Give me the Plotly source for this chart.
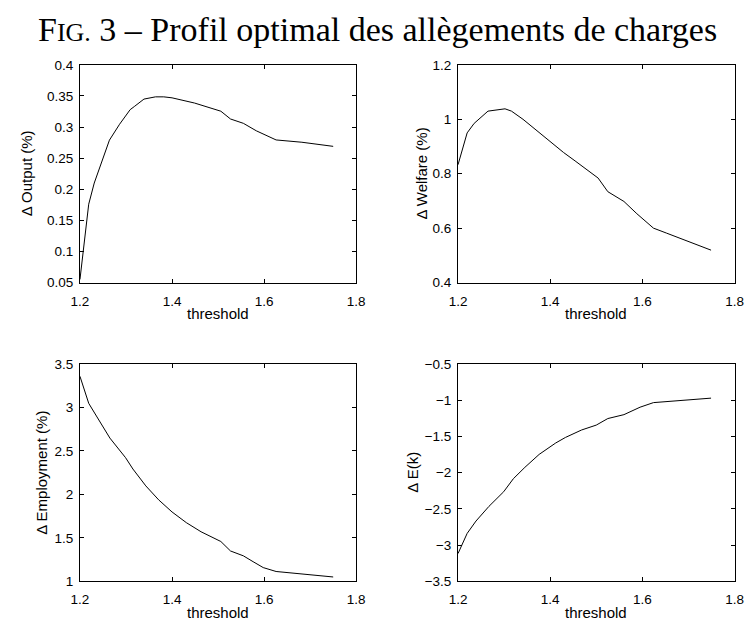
import plotly.graph_objects as go

# ---- data ----
out_x = [1.2, 1.219, 1.231, 1.264, 1.286, 1.309, 1.318, 1.339, 1.364, 1.382, 1.4, 1.449, 1.506, 1.527, 1.555, 1.583, 1.626, 1.682, 1.75]
out_y = [0.055, 0.176, 0.210, 0.279, 0.3045, 0.328, 0.333, 0.345, 0.3486, 0.3486, 0.347, 0.3386, 0.3255, 0.313, 0.306, 0.294, 0.2793, 0.2756, 0.269]

wel_x = [1.2, 1.2198, 1.235, 1.265, 1.302, 1.316, 1.341, 1.369, 1.398, 1.429, 1.454, 1.479, 1.504, 1.525, 1.539, 1.56, 1.588, 1.624, 1.652, 1.749]
wel_y = [0.833, 0.95, 0.985, 1.03, 1.0385, 1.03, 1.0, 0.961, 0.919, 0.878, 0.847, 0.815, 0.784, 0.734, 0.719, 0.698, 0.653, 0.6, 0.582, 0.519]

emp_x = [1.2, 1.219, 1.237, 1.265, 1.299, 1.315, 1.343, 1.371, 1.4, 1.431, 1.463, 1.506, 1.527, 1.555, 1.576, 1.598, 1.626, 1.75]
emp_y = [3.358, 3.047, 2.89, 2.647, 2.422, 2.291, 2.097, 1.936, 1.797, 1.674, 1.569, 1.457, 1.348, 1.292, 1.225, 1.157, 1.112, 1.049]

ek_x = [1.2, 1.2198, 1.239, 1.267, 1.299, 1.32, 1.345, 1.376, 1.412, 1.433, 1.468, 1.5, 1.525, 1.56, 1.595, 1.624, 1.749]
ek_y = [-3.118, -2.84, -2.669, -2.467, -2.265, -2.085, -1.928, -1.749, -1.591, -1.515, -1.412, -1.344, -1.254, -1.2, -1.097, -1.034, -0.972]

x_ticks = [1.2, 1.4, 1.6, 1.8]
y_labels = ["\u0394 Output (%)", "\u0394 Welfare (%)", "\u0394 Employment (%)", "\u0394 E(k)"]
x_label = "threshold"
title_text = 'F<span style="font-size:26px">IG.</span> 3 \u2013 Profil optimal des all\u00e8gements de charges'

W, H = 754, 627
# panel pixel boxes (left, right, top, bottom)
boxes = [(72.7, 355.7, 59.3, 282.3), (460.0, 743.3, 59.3, 282.3),
         (72.7, 355.7, 365.7, 588.3), (460.0, 743.3, 365.7, 588.3)]
yranges = [(0.05, 0.4, 0.05), (0.4, 1.2, 0.2), (1.0, 3.5, 0.5), (-3.5, -0.5, 0.5)]
series = [(out_x, out_y), (wel_x, wel_y), (emp_x, emp_y), (ek_x, ek_y)]
ytitle_cx = [18, 423, 33, 413]

SANS = "Liberation Sans, Arial, sans-serif"
fig = go.Figure()
tickfont = dict(family=SANS, size=13.5, color="black")
labfont = dict(family=SANS, size=15, color="black")
annotations = []
for i, ((l, r, t, b), (y0, y1, dy), (xs, ys)) in enumerate(zip(boxes, yranges, series)):
    n = "" if i == 0 else str(i + 1)
    fig.add_trace(go.Scatter(x=xs, y=ys, mode="lines", line=dict(color="black", width=1),
                             xaxis="x" + n, yaxis="y" + n, showlegend=False))
    common = dict(showline=True, linecolor="black", linewidth=1, mirror="ticks", ticks="inside",
                  ticklen=4, tickcolor="black", tickwidth=1, showgrid=False, zeroline=False,
                  tickfont=tickfont)
    fig.layout["xaxis" + n] = dict(domain=[l / W, r / W], range=[1.2, 1.8], tickvals=x_ticks,
                                   anchor="y" + n, ticklabelstandoff=6, **common)
    fig.layout["yaxis" + n] = dict(domain=[1 - b / H, 1 - t / H], range=[y0, y1], dtick=dy, tick0=y0,
                                   anchor="x" + n, ticklabelstandoff=3, **common)
    annotations.append(dict(x=ytitle_cx[i] / W, y=1 - (t + b) / 2 / H, xref="paper", yref="paper",
                            text=y_labels[i], textangle=-90, showarrow=False,
                            xanchor="center", yanchor="middle", font=labfont))
    annotations.append(dict(x=(l + r) / 2 / W, y=1 - (b + 32) / H, xref="paper", yref="paper",
                            text=x_label, showarrow=False, xanchor="center", yanchor="middle",
                            font=labfont))

annotations.append(dict(x=0.5, y=1 - 23 / H, xref="paper", yref="paper", text=title_text,
                        showarrow=False, xanchor="center", yanchor="middle",
                        font=dict(family="Liberation Serif, serif", size=34, color="black")))

fig.update_layout(width=W, height=H, margin=dict(l=0, r=0, t=0, b=0),
                  paper_bgcolor="white", plot_bgcolor="white", annotations=annotations)

fig.write_html("out.html")
